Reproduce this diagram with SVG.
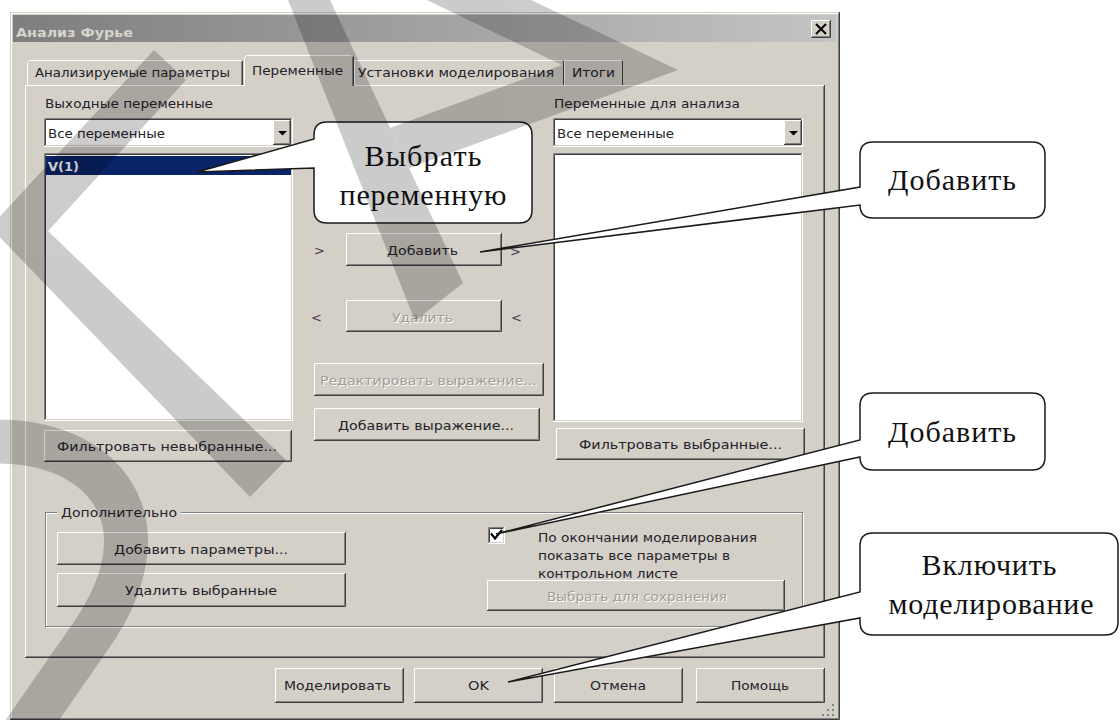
<svg xmlns="http://www.w3.org/2000/svg" width="1120" height="720" viewBox="0 0 1120 720">
  <defs>
    <linearGradient id="cap" x1="0" y1="0" x2="1" y2="0">
      <stop offset="0" stop-color="#7e7e7e"/>
      <stop offset="1" stop-color="#c4c4c4"/>
    </linearGradient>
    <style>
      .face{fill:#d4d0c8}
      .bf{fill:#d4d0c8}
      .hl{fill:none;stroke:#ffffff;stroke-width:1}
      .dk{fill:none;stroke:#404040;stroke-width:1}
      .md{fill:none;stroke:#808080;stroke-width:1}
      .sk1{fill:none;stroke:#808080;stroke-width:1}
      .sk2{fill:none;stroke:#404040;stroke-width:1}
      .sk3{fill:none;stroke:#ffffff;stroke-width:1}
      .sk4{fill:none;stroke:#d4d0c8;stroke-width:1}
      .t{font-family:"DejaVu Sans","Liberation Sans",sans-serif;font-size:13px;fill:#24222a}
      .dis{fill:#a19d95}
      .emb{fill:#ffffff}
      .arr{font-family:"DejaVu Sans","Liberation Sans",sans-serif;font-size:13px;fill:#4a3850}
      .co{fill:#ffffff;stroke:#1a1a1a;stroke-width:1.5;stroke-linejoin:miter}
      .ct{font-family:"Liberation Serif","Times New Roman",serif;font-size:30px;fill:#111111}
    </style>
  </defs>

  <rect width="1120" height="720" fill="#ffffff"/>

  <!-- dialog window -->
  <g id="dialog">
    <rect x="10" y="12" width="830" height="708" class="face"/>
    <path d="M11.5,720V13.5H839" fill="none" stroke="#ffffff"/>
    <path d="M10,719.5H839.5V12" fill="none" stroke="#404040"/>
    <path d="M11,718.5H838.5V13" fill="none" stroke="#808080"/>

    <!-- caption bar -->
    <rect x="13" y="15" width="823" height="27" fill="url(#cap)"/>
    <text x="16" y="37" class="t" style="font-weight:bold;fill:#d8d4cc" textLength="117" lengthAdjust="spacingAndGlyphs">Анализ Фурье</text>
    <g id="close-btn">
      <rect x="811" y="20" width="20" height="18" class="bf"/>
      <path class="hl" d="M811.5,37V20.5H830"/>
      <path class="dk" d="M811,37.5H830.5V20"/>
      <path class="md" d="M812,36.5H829.5V21"/>
      <path d="M816,24L826,34M826,24L816,34" stroke="#000" stroke-width="2"/>
    </g>

    <!-- tab page frame -->
    <path d="M25.5,657V85.5H824" fill="none" stroke="#ffffff"/>
    <path d="M25,657.5H824.5V85" fill="none" stroke="#404040"/>
    <path d="M26,656.5H823.5V86" fill="none" stroke="#808080"/>

    <!-- tabs -->
    <g id="tab-params">
      <path d="M27.5,85V62.5L29.5,60.5H241" fill="none" stroke="#ffffff"/>
      <path d="M242.5,61V85" fill="none" stroke="#404040"/>
      <path d="M241.5,62V85" fill="none" stroke="#808080"/>
      <text x="35" y="77" class="t" textLength="195" lengthAdjust="spacingAndGlyphs">Анализируемые параметры</text>
    </g>
    <g id="tab-setup">
      <path d="M354.5,85V60.5H562" fill="none" stroke="#ffffff"/>
      <path d="M563.5,61V85" fill="none" stroke="#404040"/>
      <text x="358" y="77" class="t" textLength="196" lengthAdjust="spacingAndGlyphs">Установки моделирования</text>
    </g>
    <g id="tab-results">
      <path d="M564.5,85V60.5H621" fill="none" stroke="#ffffff"/>
      <path d="M622.5,61V85" fill="none" stroke="#404040"/>
      <text x="572" y="77" class="t" textLength="43" lengthAdjust="spacingAndGlyphs">Итоги</text>
    </g>
    <g id="tab-vars">
      <rect x="244" y="55" width="110" height="32" class="face"/>
      <path d="M244.5,86V57.5L246.5,55.5H351" fill="none" stroke="#ffffff"/>
      <path d="M353.5,56.5V86" fill="none" stroke="#404040"/>
      <path d="M352.5,57V86" fill="none" stroke="#808080"/>
      <text x="252" y="75" class="t" textLength="91" lengthAdjust="spacingAndGlyphs">Переменные</text>
    </g>

    <!-- output variables -->
    <text x="45" y="108" class="t" textLength="168" lengthAdjust="spacingAndGlyphs">Выходные переменные</text>
    <g id="combo-out">
      <rect x="44" y="118" width="249" height="29" fill="#ffffff"/>
      <path class="sk1" d="M44.5,146V118.5H292"/>
      <path class="sk2" d="M45.5,145V119.5H291"/>
      <path class="sk3" d="M44,146.5H292.5V118"/>
      <path class="sk4" d="M45,145.5H291.5V119"/>
      <rect x="273" y="120" width="18" height="25" class="bf"/>
      <path class="hl" d="M273.5,144V120.5H290"/>
      <path class="dk" d="M273,144.5H290.5V120"/>
      <path class="md" d="M274,143.5H289.5V121"/>
      <path d="M278,131H287L282.5,135.5Z" fill="#000"/>
      <text x="48" y="138" class="t" textLength="117" lengthAdjust="spacingAndGlyphs">Все переменные</text>
    </g>
    <g id="list-out">
      <rect x="44" y="153" width="249" height="268" fill="#ffffff"/>
      <path class="sk1" d="M44.5,420V153.5H292"/>
      <path class="sk2" d="M45.5,419V154.5H291"/>
      <path class="sk3" d="M44,420.5H292.5V153"/>
      <path class="sk4" d="M45,419.5H291.5V154"/>
      <rect x="46" y="156" width="245" height="19" fill="#0a246a"/>
      <text x="48" y="171" class="t" style="fill:#ffffff;font-weight:bold" textLength="31" lengthAdjust="spacingAndGlyphs">V(1)</text>
    </g>

    <!-- variables for analysis -->
    <text x="554" y="108" class="t" textLength="186" lengthAdjust="spacingAndGlyphs">Переменные для анализа</text>
    <g id="combo-an">
      <rect x="553" y="118" width="250" height="29" fill="#ffffff"/>
      <path class="sk1" d="M553.5,146V118.5H802"/>
      <path class="sk2" d="M554.5,145V119.5H801"/>
      <path class="sk3" d="M553,146.5H802.5V118"/>
      <path class="sk4" d="M554,145.5H801.5V119"/>
      <rect x="784" y="120" width="18" height="25" class="bf"/>
      <path class="hl" d="M784.5,144V120.5H801"/>
      <path class="dk" d="M784,144.5H801.5V120"/>
      <path class="md" d="M785,143.5H800.5V121"/>
      <path d="M789,131H798L793.5,135.5Z" fill="#000"/>
      <text x="557" y="138" class="t" textLength="117" lengthAdjust="spacingAndGlyphs">Все переменные</text>
    </g>
    <g id="list-an">
      <rect x="553" y="153" width="250" height="269" fill="#ffffff"/>
      <path class="sk1" d="M553.5,421V153.5H802"/>
      <path class="sk2" d="M554.5,420V154.5H801"/>
      <path class="sk3" d="M553,421.5H802.5V153"/>
      <path class="sk4" d="M554,420.5H801.5V154"/>
    </g>

    <!-- move buttons -->
    <text x="314" y="255" class="arr">&gt;</text>
    <text x="510" y="256" class="arr">&gt;</text>
    <text x="311" y="322" class="arr">&lt;</text>
    <text x="511" y="322" class="arr">&lt;</text>
    <g id="btn-add">
      <rect x="346" y="233" width="156" height="33" class="bf"/>
      <path class="hl" d="M346.5,265V233.5H501"/>
      <path class="dk" d="M346,265.5H501.5V233"/>
      <path class="md" d="M347,264.5H500.5V234"/>
      <text x="387" y="255" class="t" textLength="71" lengthAdjust="spacingAndGlyphs">Добавить</text>
    </g>
    <g id="btn-remove">
      <rect x="346" y="300" width="156" height="32" class="bf"/>
      <path class="hl" d="M346.5,331V300.5H501"/>
      <path class="dk" d="M346,331.5H501.5V300"/>
      <path class="md" d="M347,330.5H500.5V301"/>
      <text x="393" y="323" class="t emb" textLength="61" lengthAdjust="spacingAndGlyphs">Удалить</text>
      <text x="392" y="322" class="t dis" textLength="61" lengthAdjust="spacingAndGlyphs">Удалить</text>
    </g>
    <g id="btn-edit-expr">
      <rect x="314" y="363" width="230" height="33" class="bf"/>
      <path class="hl" d="M314.5,395V363.5H543"/>
      <path class="dk" d="M314,395.5H543.5V363"/>
      <path class="md" d="M315,394.5H542.5V364"/>
      <text x="321" y="386" class="t emb" textLength="217" lengthAdjust="spacingAndGlyphs">Редактировать выражение...</text>
      <text x="320" y="385" class="t dis" textLength="217" lengthAdjust="spacingAndGlyphs">Редактировать выражение...</text>
    </g>
    <g id="btn-add-expr">
      <rect x="314" y="408" width="226" height="33" class="bf"/>
      <path class="hl" d="M314.5,440V408.5H539"/>
      <path class="dk" d="M314,440.5H539.5V408"/>
      <path class="md" d="M315,439.5H538.5V409"/>
      <text x="338" y="430" class="t" textLength="176" lengthAdjust="spacingAndGlyphs">Добавить выражение...</text>
    </g>
    <g id="btn-filter-out">
      <rect x="44" y="430" width="248" height="32" class="bf"/>
      <path class="hl" d="M44.5,461V430.5H291"/>
      <path class="dk" d="M44,461.5H291.5V430"/>
      <path class="md" d="M45,460.5H290.5V431"/>
      <text x="57" y="451" class="t" textLength="220" lengthAdjust="spacingAndGlyphs">Фильтровать невыбранные...</text>
    </g>
    <g id="btn-filter-an">
      <rect x="556" y="428" width="249" height="32" class="bf"/>
      <path class="hl" d="M556.5,459V428.5H804"/>
      <path class="dk" d="M556,459.5H804.5V428"/>
      <path class="md" d="M557,458.5H803.5V429"/>
      <text x="579" y="449" class="t" textLength="203" lengthAdjust="spacingAndGlyphs">Фильтровать выбранные...</text>
    </g>

    <!-- additional group -->
    <g id="group-extra">
      <rect x="46.5" y="513.5" width="757" height="114" fill="none" stroke="#ffffff"/>
      <rect x="45.5" y="512.5" width="757" height="114" fill="none" stroke="#808080"/>
      <rect x="57" y="504" width="124" height="16" class="face"/>
      <text x="61" y="517" class="t" textLength="116" lengthAdjust="spacingAndGlyphs">Дополнительно</text>
    </g>
    <g id="btn-add-params">
      <rect x="57" y="532" width="289" height="33" class="bf"/>
      <path class="hl" d="M57.5,564V532.5H345"/>
      <path class="dk" d="M57,564.5H345.5V532"/>
      <path class="md" d="M58,563.5H344.5V533"/>
      <text x="114" y="554" class="t" textLength="174" lengthAdjust="spacingAndGlyphs">Добавить параметры...</text>
    </g>
    <g id="btn-del-selected">
      <rect x="57" y="573" width="289" height="34" class="bf"/>
      <path class="hl" d="M57.5,606V573.5H345"/>
      <path class="dk" d="M57,606.5H345.5V573"/>
      <path class="md" d="M58,605.5H344.5V574"/>
      <text x="125" y="595" class="t" textLength="152" lengthAdjust="spacingAndGlyphs">Удалить выбранные</text>
    </g>
    <g id="chk-show">
      <rect x="488" y="527" width="17" height="17" fill="#ffffff"/>
      <path class="sk1" d="M488.5,543V527.5H504"/>
      <path class="sk2" d="M489.5,542V528.5H503"/>
      <path class="sk3" d="M488,543.5H504.5V527"/>
      <path class="sk4" d="M489,542.5H503.5V528"/>
      <path d="M491,533.5L495,538.5L502,530" fill="none" stroke="#000" stroke-width="2.2"/>
      <text x="538" y="542" class="t" textLength="219" lengthAdjust="spacingAndGlyphs">По окончании моделирования</text>
      <text x="538" y="560" class="t" textLength="192" lengthAdjust="spacingAndGlyphs">показать все параметры в</text>
      <text x="538" y="578" class="t" textLength="140" lengthAdjust="spacingAndGlyphs">контрольном листе</text>
    </g>
    <g id="btn-save-sel">
      <rect x="487" y="580" width="298" height="31" class="bf"/>
      <path class="hl" d="M487.5,610V580.5H784"/>
      <path class="dk" d="M487,610.5H784.5V580"/>
      <path class="md" d="M488,609.5H783.5V581"/>
      <text x="548" y="602" class="t emb" textLength="180" lengthAdjust="spacingAndGlyphs">Выбрать для сохранения</text>
      <text x="547" y="601" class="t dis" textLength="180" lengthAdjust="spacingAndGlyphs">Выбрать для сохранения</text>
    </g>

    <!-- dialog buttons -->
    <g id="btn-simulate">
      <rect x="275" y="668" width="129" height="35" class="bf"/>
      <path class="hl" d="M275.5,702V668.5H403"/>
      <path class="dk" d="M275,702.5H403.5V668"/>
      <path class="md" d="M276,701.5H402.5V669"/>
      <text x="284" y="690" class="t" textLength="107" lengthAdjust="spacingAndGlyphs">Моделировать</text>
    </g>
    <g id="btn-ok">
      <rect x="414" y="668" width="129" height="35" class="bf"/>
      <path class="hl" d="M414.5,702V668.5H542"/>
      <path class="dk" d="M414,702.5H542.5V668"/>
      <path class="md" d="M415,701.5H541.5V669"/>
      <text x="468" y="690" class="t" textLength="21" lengthAdjust="spacingAndGlyphs">OK</text>
    </g>
    <g id="btn-cancel">
      <rect x="554" y="668" width="129" height="35" class="bf"/>
      <path class="hl" d="M554.5,702V668.5H682"/>
      <path class="dk" d="M554,702.5H682.5V668"/>
      <path class="md" d="M555,701.5H681.5V669"/>
      <text x="590" y="690" class="t" textLength="56" lengthAdjust="spacingAndGlyphs">Отмена</text>
    </g>
    <g id="btn-help">
      <rect x="696" y="668" width="129" height="35" class="bf"/>
      <path class="hl" d="M696.5,702V668.5H824"/>
      <path class="dk" d="M696,702.5H824.5V668"/>
      <path class="md" d="M697,701.5H823.5V669"/>
      <text x="731" y="690" class="t" textLength="58" lengthAdjust="spacingAndGlyphs">Помощь</text>
    </g>

    <!-- size grip -->
    <g id="size-grip" fill="#808080">
      <rect x="832" y="704" width="2" height="2"/>
      <rect x="832" y="709" width="2" height="2"/>
      <rect x="827" y="709" width="2" height="2"/>
      <rect x="832" y="714" width="2" height="2"/>
      <rect x="827" y="714" width="2" height="2"/>
      <rect x="822" y="714" width="2" height="2"/>
    </g>
  </g>

  <!-- callouts -->
  <g id="callout-select">
    <path class="co" d="M327,122H519Q532,122 532,135V210Q532,223 519,223H327Q314,223 314,210V168L197,172L314,139V135Q314,122 327,122Z"/>
    <text x="423" y="166" class="ct" text-anchor="middle" textLength="117" lengthAdjust="spacing">Выбрать</text>
    <text x="423" y="205" class="ct" text-anchor="middle" textLength="167" lengthAdjust="spacing">переменную</text>
  </g>
  <g id="callout-add">
    <path class="co" d="M873,142H1032Q1045,142 1045,155V205Q1045,218 1032,218H873Q860,218 860,205L480,252L860,187V155Q860,142 873,142Z"/>
    <text x="952" y="190" class="ct" text-anchor="middle" textLength="128" lengthAdjust="spacing">Добавить</text>
  </g>
  <g id="callout-check">
    <path class="co" d="M873,393H1032Q1045,393 1045,406V457Q1045,470 1032,470H873Q860,470 860,457L496,534L860,440V406Q860,393 873,393Z"/>
    <text x="952" y="442" class="ct" text-anchor="middle" textLength="128" lengthAdjust="spacing">Добавить</text>
  </g>
  <g id="callout-run">
    <path class="co" d="M873,533H1105Q1118,533 1118,546V622Q1118,635 1105,635H873Q860,635 860,622V618L508,682L860,592V546Q860,533 873,533Z"/>
    <text x="989" y="575" class="ct" text-anchor="middle" textLength="135" lengthAdjust="spacing">Включить</text>
    <text x="991" y="614" class="ct" text-anchor="middle" textLength="205" lengthAdjust="spacing">моделирование</text>
  </g>

  <!-- translucent watermark strokes over the whole sheet -->
  <g id="watermark" opacity="0.2">
    <polygon points="-10,227 154,50 186,80 48,231 286,460 250,497" fill="#000"/>
    <polygon points="288,0 330,0 463,283 415,321" fill="#000"/>
    <polygon points="427,0 531,0 678,70 409,168 390,128 562,65" fill="#000"/>
    <path d="M-20,442C70,436 128,480 126,545Q124,590 88,640L22,735" fill="none" stroke="#000" stroke-width="44"/>
  </g>
</svg>
